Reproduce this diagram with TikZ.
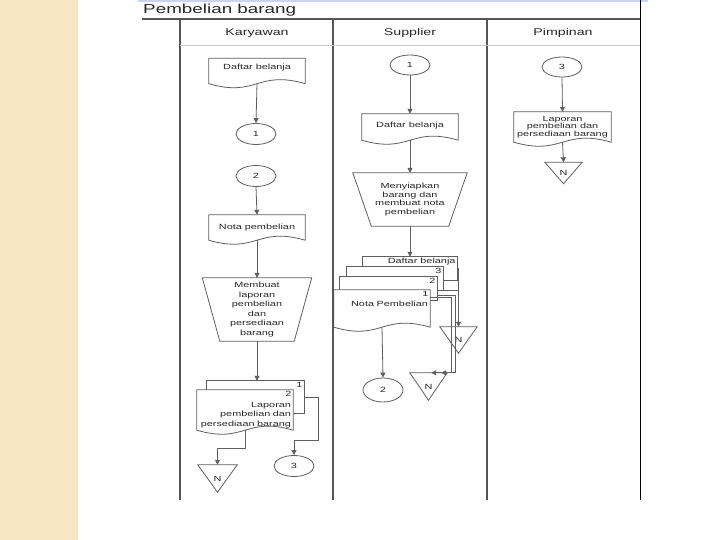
\documentclass[tikz,border=0pt]{standalone}
\usepackage{fontspec}
\setmainfont{Liberation Sans}[FakeStretch=1.45]
\usetikzlibrary{arrows.meta,shapes.geometric}

\definecolor{strip}{RGB}{246,230,193}
\definecolor{topbar}{RGB}{200,212,240}
\definecolor{lanegray}{RGB}{85,85,85}
\definecolor{headgray}{RGB}{200,200,200}
\definecolor{shapegray}{RGB}{95,95,95}
\definecolor{textgray}{RGB}{40,40,40}

\pgfdeclarelayer{back}
\pgfdeclarelayer{shapes}
\pgfsetlayers{back,shapes,main}

\tikzset{
  shapeline/.style={draw=shapegray, line width=0.8pt},
  box/.style={inner sep=0pt, align=center, text=textgray, font=\fontsize{7.5}{8.5}\selectfont},
  conn/.style={ellipse, shapeline, fill=white, inner sep=0pt, minimum width=40pt, minimum height=21pt, text=textgray, font=\fontsize{7.5}{8.5}\selectfont},
  pagelabel/.style={anchor=north east, inner sep=1.5pt, text=textgray, font=\fontsize{7.5}{8.5}\selectfont},
  flow/.style={shapeline, -{Triangle[length=5pt,width=5pt]}},
  laneline/.style={draw=lanegray, line width=1.1pt},
  lanehead/.style={anchor=base, text=textgray, font=\fontsize{9.8}{12}\selectfont}
}

% document symbol with a wavy bottom
\newcommand{\docshape}[1]{%
  \begin{pgfonlayer}{shapes}
    \draw[shapeline, fill=white] (#1.south west) -- (#1.north west) -- (#1.north east) -- (#1.south east)
      .. controls ([yshift=14pt]#1.south) and ([yshift=-14pt]#1.south) .. (#1.south west) -- cycle;
  \end{pgfonlayer}}
% a page lying behind another
\newcommand{\pageshape}[1]{%
  \begin{pgfonlayer}{shapes}
    \draw[shapeline, fill=white] (#1.north west) rectangle (#1.south east);
  \end{pgfonlayer}}
% manual operation
\newcommand{\manshape}[2]{%
  \begin{pgfonlayer}{shapes}
    \draw[shapeline, fill=white] (#1.north west) -- (#1.north east) -- ([xshift=-#2]#1.south east)
      -- ([xshift=#2]#1.south west) -- cycle;
  \end{pgfonlayer}}
% off-line storage triangle
\newcommand{\offshape}[1]{%
  \begin{pgfonlayer}{shapes}
    \draw[shapeline, fill=white] (#1.north west) -- (#1.north east) -- (#1.south) -- cycle;
  \end{pgfonlayer}}

\begin{document}
\begin{tikzpicture}[x=1pt, y=-1pt]
  \useasboundingbox (0,0) rectangle (720,540);
  \begin{pgfonlayer}{back}
    \fill[white] (0,0) rectangle (720,540);
    \fill[strip] (0,0) rectangle (78,540);
    \fill[topbar] (138,0) rectangle (648,2.5);
  \end{pgfonlayer}

  % frame and lanes
  \node[anchor=base west, inner sep=0pt, text=textgray, font=\fontsize{13}{15}\selectfont] (title) at (143,13.5) {Pembelian barang};
  \draw[laneline] (142,19) -- (640,19);
  \draw[draw=black, line width=1pt] (640,0) -- (640,500);
  \foreach \x in {180,333,487}
    \draw[laneline] (\x,19) -- (\x,500);
  \draw[draw=headgray, line width=1pt] (180,46) -- (640,46);
  \node[lanehead] (hkar) at (257,36) {Karyawan};
  \node[lanehead] (hsup) at (410,36) {Supplier};
  \node[lanehead] (hpim) at (563,36) {Pimpinan};

  % Karyawan
  \node[box, minimum width=96pt, minimum height=25pt, text depth=9pt] (kdaftar) at (257,71) {Daftar belanja};
  \docshape{kdaftar}
  \node[conn] (kc1) at (256,134) {1};
  \node[conn] (kc2) at (256,176) {2};
  \node[box, minimum width=96pt, minimum height=25pt] (knota) at (257,227.5) {Nota pembelian};
  \docshape{knota}
  \node[box, minimum width=109pt, minimum height=63pt, font=\fontsize{7.5}{9.5}\selectfont] (kproses) at (257,309.5)
    {Membuat\\laporan\\pembelian\\dan\\persediaan\\barang};
  \manshape{kproses}{17.5pt}
  \node[box, minimum width=97pt, minimum height=32pt, label={[pagelabel]north east:1}] (kbelakang) at (255.5,397) {};
  \pageshape{kbelakang}
  \node[box, minimum width=96pt, minimum height=40pt, text width=92pt, align=right,
        font=\fontsize{7.5}{9.5}\selectfont, label={[pagelabel]north east:2}] (klapor) at (245,410)
    {\rule{0pt}{15pt}Laporan\\pembelian dan\\persediaan barang};
  \docshape{klapor}
  \node[box, minimum width=39pt, minimum height=27pt] (kN) at (217.5,478.5) {N};
  \offshape{kN}
  \node[conn] (kc3) at (294,466) {3};

  \draw[flow] (kdaftar.south) -- (kc1.north);
  \draw[flow] (kc2.south) -- (knota.north);
  \draw[flow] (knota.south) -- (kproses.north);
  \draw[flow] (kproses.south) -- (kproses.south |- kbelakang.north);
  \draw[flow] (klapor.south) -- ++(0,18) -| (kN.north);
  \draw[flow] (kbelakang.east) -- ++(14,0) -- ++(0,43) -| (kc3.north);

  % Supplier
  \node[conn, minimum height=20pt] (sc1) at (410,65) {1};
  \node[box, minimum width=96pt, minimum height=26pt, text depth=5pt] (sdaftar) at (410,127) {Daftar belanja};
  \docshape{sdaftar}
  \node[box, minimum width=114pt, minimum height=53pt] (sproses) at (410,199.5)
    {Menyiapkan\\barang dan\\membuat nota\\pembelian};
  \manshape{sproses}{18.5pt}
  \node[box, minimum width=94pt, minimum height=23pt, label={[pagelabel]north east:Daftar belanja}] (slembar4) at (410,268.5) {};
  \pageshape{slembar4}
  \node[box, minimum width=96pt, minimum height=23pt, label={[pagelabel]north east:3}] (slembar3) at (395,278.5) {};
  \pageshape{slembar3}
  \node[box, minimum width=97pt, minimum height=23pt, label={[pagelabel]north east:2}] (slembar2) at (388.5,288.5) {};
  \pageshape{slembar2}
  \node[box, minimum width=96pt, minimum height=37pt, text width=92pt, align=right, text depth=9pt,
        label={[pagelabel]north east:1}] (snota) at (382,308.5) {Nota Pembelian};
  \docshape{snota}
  \node[box, minimum width=37pt, minimum height=26pt] (sN1) at (458.5,340) {N};
  \offshape{sN1}
  \node[box, minimum width=37pt, minimum height=27pt] (sN2) at (428.5,386.5) {N};
  \offshape{sN2}
  \node[conn, minimum height=24pt] (sc2) at (383,390) {2};

  \draw[flow] (sc1.south) -- (sdaftar.north);
  \draw[flow] (sdaftar.south) -- (sproses.north);
  \draw[flow] (sproses.south) -- (sproses.south |- slembar4.north);
  \draw[flow] (slembar4.east) -| (sN1.north);
  \draw[shapeline] (slembar3.south east) -- (slembar3.south east -| sN1.north);
  \draw[flow] ([yshift=5pt]slembar2.south east) -- ++(18,0) |- ([xshift=-6pt]sN2.north east);
  \draw[flow] ([yshift=-8pt]snota.north east) -- ++(21,0) |- ([xshift=-16pt]sN2.north east);
  \draw[flow] (snota.south) -- (sc2.north);

  % Pimpinan
  \node[conn, minimum height=20pt] (pc3) at (562,67) {3};
  \node[box, minimum width=97pt, minimum height=30pt, font=\fontsize{7.5}{7.5}\selectfont] (plapor) at (562.5,127)
    {Laporan\\pembelian dan\\persediaan barang};
  \docshape{plapor}
  \node[box, minimum width=37pt, minimum height=21pt] (pN) at (563.5,173) {N};
  \offshape{pN}

  \draw[flow] (pc3.south) -- (plapor.north);
  \draw[flow] (plapor.south) -- (pN.north);
\end{tikzpicture}
\end{document}
